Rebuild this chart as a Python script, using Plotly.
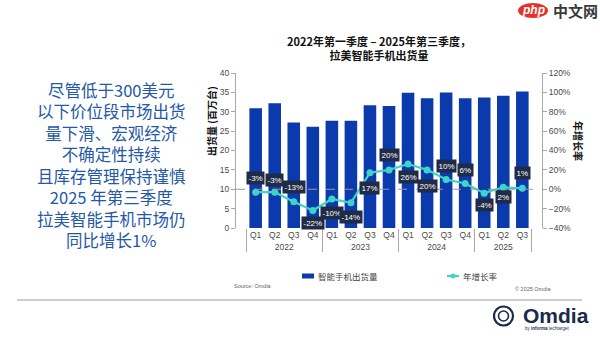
import plotly.graph_objects as go

# Quarterly smartphone shipments in Latin America (millions) and YoY growth (%)
years = ["2022"] * 4 + ["2023"] * 4 + ["2024"] * 4 + ["2025"] * 3
quarters = ["Q1", "Q2", "Q3", "Q4"] * 3 + ["Q1", "Q2", "Q3"]
shipments = [30.9, 32.2, 27.2, 26.1, 27.7, 27.7, 31.7, 31.5,
             34.9, 33.5, 35.0, 33.5, 33.7, 34.1, 35.2]
growth = [-3, -3, -13, -22, -10, -14, 17, 20, 26, 20, 10, 6, -4, 2, 1]

series_names = ["智能手机出货量", "年增长率"]

# vertical offset (px) of each growth label relative to its point
label_offsets = [14, 12, 15, -12, -14, -14, -15, 15, -13, -16, 14, 13, -12, -10, 15]

side_text = [
    "尽管低于300美元",
    "以下价位段市场出货",
    "量下滑、宏观经济",
    "不确定性持续",
    "且库存管理保持谨慎",
    "2025 年第三季度",
    "拉美智能手机市场仍",
    "同比增长1%",
]

W, H = 600, 338


def px(x):
    return x / W


def py(y):
    return 1 - y / H


CJK = "Noto Sans CJK SC"
NUM = "Liberation Sans, Noto Sans CJK SC"
BAR_COLOR = "#0A3AAB"
LINE_COLOR = "#3ED4C6"
AXIS_COLOR = "#A8A8A8"
TICK_FONT = dict(family=NUM, size=8.5, color="#4A4A4A")

fig = go.Figure()

fig.add_trace(go.Bar(
    x=[years, quarters], y=shipments, name=series_names[0],
    marker=dict(color=BAR_COLOR, line=dict(width=0)),
    yaxis="y",
))

fig.add_trace(go.Scatter(
    x=[years, quarters], y=growth, name=series_names[1],
    mode="lines+markers",
    line=dict(color=LINE_COLOR, width=2.2),
    marker=dict(color=LINE_COLOR, size=7),
    yaxis="y2",
))

annotations = []
for i, (g, dy) in enumerate(zip(growth, label_offsets)):
    annotations.append(dict(
        x=i, y=g, xref="x", yref="y2", text=f"{g}%", showarrow=False,
        yshift=dy, bgcolor="#1F2B47", borderpad=1.5,
        font=dict(family=NUM, size=8, color="white"),
    ))

# left-hand commentary
annotations.append(dict(
    x=px(111), y=py(165), xref="paper", yref="paper",
    text="<br>".join(side_text), showarrow=False,
    xanchor="center", yanchor="middle", align="center",
    font=dict(family=CJK, size=16.5, color="#2458A8"),
))

# chart title
annotations.append(dict(
    x=px(379), y=py(48), xref="paper", yref="paper",
    text="<b>2022年第一季度 – 2025年第三季度，<br>拉美智能手机出货量</b>",
    showarrow=False, xanchor="center", yanchor="middle", align="center",
    font=dict(family=CJK, size=11, color="#111111"),
))

# axis titles
annotations.append(dict(
    x=px(212), y=py(121), xref="paper", yref="paper",
    text="<b>出货量 (百万台)</b>", textangle=-90, showarrow=False,
    xanchor="center", yanchor="middle",
    font=dict(family=CJK, size=10, color="#111111"),
))
annotations.append(dict(
    x=px(579), y=py(141), xref="paper", yref="paper",
    text="<b>年增长率</b>", textangle=90, showarrow=False,
    xanchor="center", yanchor="middle",
    font=dict(family=CJK, size=10, color="#111111"),
))

# legend entries
annotations.append(dict(
    x=px(316), y=py(276), xref="paper", yref="paper", text=series_names[0],
    showarrow=False, xanchor="left", yanchor="middle",
    font=dict(family=CJK, size=8.5, color="#444444"),
))
annotations.append(dict(
    x=px(460.5), y=py(276), xref="paper", yref="paper", text=series_names[1],
    showarrow=False, xanchor="left", yanchor="middle",
    font=dict(family=CJK, size=8.5, color="#444444"),
))

# footnotes
annotations.append(dict(
    x=px(232), y=py(286), xref="paper", yref="paper", text="Source: Omdia",
    showarrow=False, xanchor="left", yanchor="middle",
    font=dict(family=NUM, size=5.5, color="#666666"),
))
annotations.append(dict(
    x=px(553), y=py(289), xref="paper", yref="paper", text="© 2025 Omdia",
    showarrow=False, xanchor="right", yanchor="middle",
    font=dict(family=NUM, size=5.5, color="#666666"),
))

# Omdia logo text
annotations.append(dict(
    x=px(521), y=py(315), xref="paper", yref="paper", text="<b>Omdia</b>",
    showarrow=False, xanchor="left", yanchor="middle",
    font=dict(family=NUM, size=21, color="#1B2A4A"),
))
annotations.append(dict(
    x=px(523), y=py(328), xref="paper", yref="paper",
    text="by <b>informa</b> techtarget",
    showarrow=False, xanchor="left", yanchor="middle",
    font=dict(family=NUM, size=4.5, color="#1B2A4A"),
))

# php watermark
annotations.append(dict(
    x=px(533), y=py(10.5), xref="paper", yref="paper", text="<b><i>php</i></b>",
    showarrow=False, xanchor="center", yanchor="middle",
    font=dict(family=NUM, size=12, color="white"),
))
annotations.append(dict(
    x=px(575), y=py(10.5), xref="paper", yref="paper", text="<b>中文网</b>",
    showarrow=False, xanchor="center", yanchor="middle",
    font=dict(family=CJK, size=15, color="#3A3A3A"),
))

shapes = [
    # 0% reference line
    dict(type="line", xref="paper", yref="y2", x0=px(236), x1=px(542), y0=0, y1=0,
         line=dict(color="#9A9A9A", width=1, dash="dash"), layer="above"),
    # legend swatches
    dict(type="rect", xref="paper", yref="paper",
         x0=px(302), x1=px(314), y0=py(278.5), y1=py(273.5),
         fillcolor=BAR_COLOR, line=dict(width=0)),
    dict(type="line", xref="paper", yref="paper",
         x0=px(447), x1=px(459), y0=py(276), y1=py(276),
         line=dict(color=LINE_COLOR, width=2)),
    dict(type="circle", xref="paper", yref="paper",
         x0=px(450.5), x1=px(455.5), y0=py(278.5), y1=py(273.5),
         fillcolor=LINE_COLOR, line=dict(width=0)),
    # footer rule
    dict(type="line", xref="paper", yref="paper", x0=px(17), x1=px(582),
         y0=py(300), y1=py(300), line=dict(color="#BBBBBB", width=1.5)),
    # logo rings
    dict(type="circle", xref="paper", yref="paper",
         x0=px(494), x1=px(513), y0=py(306.5), y1=py(325.5),
         line=dict(color="#1B2A4A", width=2.2)),
    dict(type="circle", xref="paper", yref="paper",
         x0=px(498.5), x1=px(508.5), y0=py(311), y1=py(321),
         line=dict(color="#1B2A4A", width=1.6)),
    # watermark badge
    dict(type="circle", xref="paper", yref="paper",
         x0=px(518), x1=px(548), y0=py(3), y1=py(18),
         fillcolor="#E2332B", line=dict(width=0)),
]

fig.update_layout(
    width=W, height=H,
    margin=dict(l=0, r=0, t=0, b=0, autoexpand=False),
    paper_bgcolor="white", plot_bgcolor="white",
    bargap=0.34,
    showlegend=False,
    xaxis=dict(
        domain=[px(236), px(542)], type="multicategory",
        showgrid=False, showline=False, ticks="",
        tickfont=TICK_FONT, tickangle=0,
        showdividers=True, dividercolor=AXIS_COLOR, dividerwidth=1.2,
    ),
    yaxis=dict(
        domain=[py(228), py(73)], range=[0, 40], dtick=5,
        showgrid=False, zeroline=False, showline=True, linecolor=AXIS_COLOR,
        ticks="outside", ticklen=4, tickcolor=AXIS_COLOR, tickfont=TICK_FONT,
    ),
    yaxis2=dict(
        overlaying="y", side="right", anchor="x", range=[-40, 120], dtick=20,
        ticksuffix="%", showgrid=False, zeroline=False, showline=True,
        linecolor=AXIS_COLOR, ticks="outside", ticklen=4, tickcolor=AXIS_COLOR,
        tickfont=TICK_FONT,
    ),
    annotations=annotations,
    shapes=shapes,
)

fig.write_html("out.html")
